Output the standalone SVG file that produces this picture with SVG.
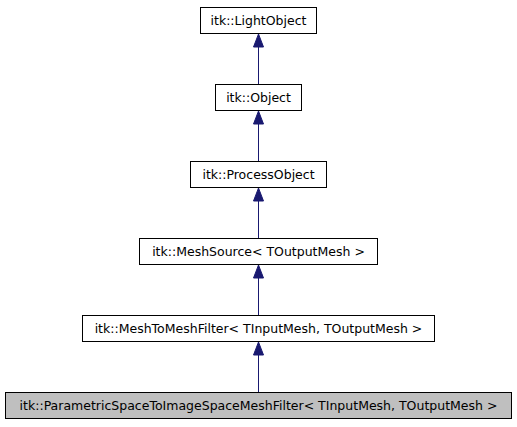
<svg xmlns="http://www.w3.org/2000/svg" width="517" height="427" viewBox="0 0 517 427">
<style>
.n rect{fill:#ffffff;stroke:#000000;stroke-width:1}
.n.cur rect{fill:#bfbfbf}
.n text{font-family:"DejaVu Sans","Liberation Sans",sans-serif;font-size:12.5px;fill:#000000;text-anchor:middle}
.e line{stroke:#191970;stroke-width:1}
.e polygon{fill:#191970;stroke:#191970;stroke-width:1}
</style>
<rect width="517" height="427" fill="#ffffff"/>
<g id="edges" class="e">
<line x1="258.5" y1="47" x2="258.5" y2="84"/>
<polygon points="258.5,34 253.5,47 263.5,47"/>
<line x1="258.5" y1="124" x2="258.5" y2="161"/>
<polygon points="258.5,111 253.5,124 263.5,124"/>
<line x1="258.5" y1="201" x2="258.5" y2="238"/>
<polygon points="258.5,188 253.5,201 263.5,201"/>
<line x1="258.5" y1="278" x2="258.5" y2="315"/>
<polygon points="258.5,265 253.5,278 263.5,278"/>
<line x1="258.5" y1="355" x2="258.5" y2="392"/>
<polygon points="258.5,342 253.5,355 263.5,355"/>
</g>
<g id="node_lightobject" class="n">
<rect x="200.5" y="7.5" width="116" height="26"/>
<text x="258.5" y="25">itk::LightObject</text>
</g>
<g id="node_object" class="n">
<rect x="215.5" y="84.5" width="86" height="26"/>
<text x="258.5" y="102">itk::Object</text>
</g>
<g id="node_processobject" class="n">
<rect x="190.5" y="161.5" width="136" height="26"/>
<text x="258.5" y="179">itk::ProcessObject</text>
</g>
<g id="node_meshsource" class="n">
<rect x="139.5" y="238.5" width="238" height="26"/>
<text x="258.5" y="256">itk::MeshSource&lt; TOutputMesh &gt;</text>
</g>
<g id="node_meshtomeshfilter" class="n">
<rect x="82.5" y="315.5" width="352" height="26"/>
<text x="258.5" y="333">itk::MeshToMeshFilter&lt; TInputMesh, TOutputMesh &gt;</text>
</g>
<g id="node_parametric" class="n cur">
<rect x="5.5" y="392.5" width="506" height="26"/>
<text x="258.5" y="410">itk::ParametricSpaceToImageSpaceMeshFilter&lt; TInputMesh, TOutputMesh &gt;</text>
</g>
</svg>
